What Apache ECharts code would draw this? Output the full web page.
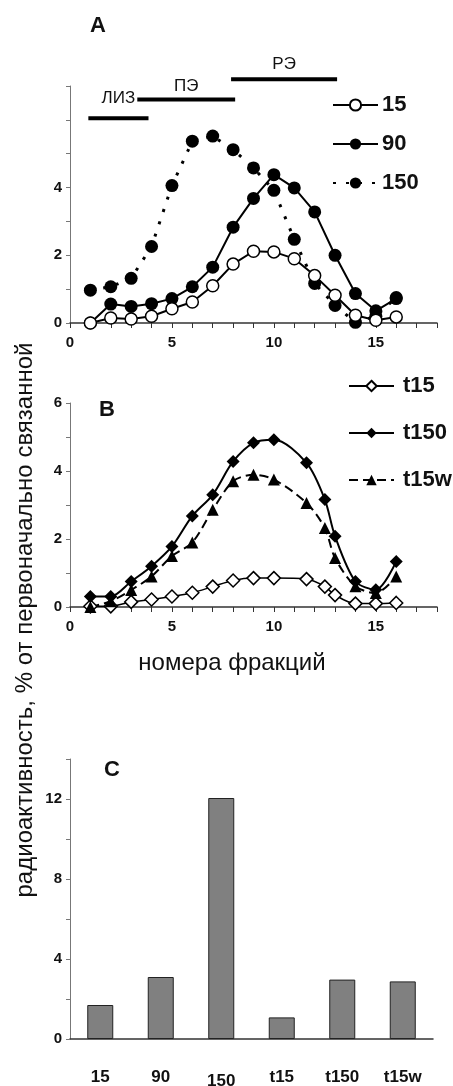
<!DOCTYPE html>
<html>
<head>
<meta charset="utf-8">
<script src="https://cdn.jsdelivr.net/npm/echarts@6/dist/echarts.min.js"></script>
<style>
  html, body { margin: 0; padding: 0; background: #fff; }
  #chart { width: 453px; height: 1086px; }
</style>
</head>
<body>
<div id="chart"></div>
<script>
// panel A: fractions and series
const fracA = [1, 2, 3, 4, 5, 6, 7, 8, 9, 10, 11, 12, 13, 14, 15, 16]
const s15 = [0, 0.15, 0.12, 0.2, 0.42, 0.62, 1.1, 1.74, 2.12, 2.1, 1.9, 1.4, 0.82, 0.23, 0.08, 0.18]
const s90 = [0, 0.56, 0.49, 0.57, 0.72, 1.07, 1.65, 2.83, 3.68, 4.38, 3.99, 3.28, 2.0, 0.87, 0.36, 0.72]
const s150 = [0.97, 1.07, 1.32, 2.26, 4.06, 5.37, 5.52, 5.12, 4.58, 3.92, 2.47, 1.17, 0.52, 0.02, 0.2, 0.75]

// annotation ranges (fraction from, to, level)
const lizRange = [0.9, 3.85, 6.05]
const peRange = [3.3, 8.1, 6.6]
const reRange = [7.9, 13.1, 7.2]

// panel B
const fracB = [1, 2, 3, 4, 5, 6, 7, 8, 9, 10, 11.6, 12.5, 13, 14, 15, 16]
const t15 = [0.02, 0.02, 0.15, 0.22, 0.31, 0.42, 0.6, 0.78, 0.85, 0.85, 0.82, 0.6, 0.35, 0.1, 0.1, 0.12]
const t150 = [0.31, 0.31, 0.75, 1.2, 1.78, 2.68, 3.3, 4.28, 4.83, 4.92, 4.24, 3.16, 2.08, 0.75, 0.51, 1.34]
const t15w = [0, 0.17, 0.5, 0.9, 1.5, 1.9, 2.86, 3.7, 3.89, 3.75, 3.06, 2.32, 1.44, 0.61, 0.41, 0.9]

// panel C
const catsC = ['15', '90', '150', 't15', 't150', 't15w']
const totalsC = [1.7, 3.1, 12.05, 1.08, 2.97, 2.88]

const FONT = 'Arial, "Liberation Sans", sans-serif'

const pairs = (xs, ys) => xs.map((x, i) => [x, ys[i]])
const seg = r => [[r[0], r[2]], [r[1], r[2]]]

const axisLabelStyle = { color: '#111', fontFamily: FONT, fontWeight: 'bold', fontSize: 15 }

function fracAxis (gridIndex) {
  return {
    type: 'value', gridIndex, min: 0, max: 18, interval: 1,
    axisLine: { lineStyle: { color: '#333', width: 1.5 } },
    axisTick: { length: 5, lineStyle: { color: '#333' } },
    splitLine: { show: false },
    axisLabel: Object.assign({ margin: 12, formatter: v => (v % 5 === 0 && v <= 15) ? v : '' }, axisLabelStyle)
  }
}

function valAxis (gridIndex, max, interval, every, hide) {
  return {
    type: 'value', gridIndex, min: 0, max, interval,
    axisLine: { show: true, lineStyle: { color: '#777', width: 1 } },
    axisTick: { show: true, length: 4, lineStyle: { color: '#777' } },
    splitLine: { show: false },
    axisLabel: Object.assign({ margin: 8, formatter: v => (v % every === 0 && !(hide || []).includes(v)) ? v : '' }, axisLabelStyle)
  }
}

const chart = echarts.init(document.getElementById('chart'), null, { renderer: 'canvas' })

const annSeries = [lizRange, peRange, reRange].map(r => ({
  type: 'line', xAxisIndex: 0, yAxisIndex: 0, data: seg(r),
  symbol: 'none', clip: false, silent: true,
  lineStyle: { color: '#000', width: 4 }
}))

const option = {
  animation: false,
  grid: [
    { left: 70, top: 86, width: 367, height: 237, outerBoundsMode: 'none' },
    { left: 70, top: 403, width: 367, height: 204, outerBoundsMode: 'none' },
    { left: 70, top: 759, width: 363, height: 280, outerBoundsMode: 'none' }
  ],
  xAxis: [
    fracAxis(0),
    fracAxis(1),
    {
      type: 'category', gridIndex: 2, data: catsC,
      axisLine: { lineStyle: { color: '#333', width: 1.5 } },
      axisTick: { length: 5, lineStyle: { color: '#333' } },
      axisLabel: Object.assign({}, axisLabelStyle, {
        margin: 30, fontSize: 17, interval: 0, hideOverlap: false,
        formatter: v => v === '150' ? '{low|' + v + '}' : v,
        rich: { low: { fontFamily: FONT, fontWeight: 'bold', fontSize: 17, color: '#111', padding: [4, 0, 0, 0] } }
      })
    }
  ],
  yAxis: [
    valAxis(0, 7, 1, 2, [6]),
    valAxis(1, 6, 1, 2),
    valAxis(2, 14, 2, 4)
  ],
  legend: [
    {
      orient: 'vertical', left: 327, top: 89, itemWidth: 45, itemHeight: 14, itemGap: 17,
      data: ['15', '90', '150'],
      textStyle: { fontFamily: FONT, fontWeight: 'bold', fontSize: 22, color: '#111', padding: [0, 0, 0, -1] }
    },
    {
      orient: 'vertical', left: 343, top: 370, itemWidth: 45, itemHeight: 13, itemGap: 25,
      data: ['t15', 't150', 't15w'],
      textStyle: { fontFamily: FONT, fontWeight: 'bold', fontSize: 22, color: '#111', padding: [0, 0, 0, 4] }
    }
  ],
  series: [
    {
      name: '15', type: 'line', xAxisIndex: 0, yAxisIndex: 0, data: pairs(fracA, s15),
      symbol: 'circle', symbolSize: 12, z: 4,
      itemStyle: { color: '#fff', borderColor: '#000', borderWidth: 1.5 },
      lineStyle: { color: '#000', width: 2 }
    },
    {
      name: '90', type: 'line', xAxisIndex: 0, yAxisIndex: 0, data: pairs(fracA, s90),
      symbol: 'circle', symbolSize: 13, z: 3,
      itemStyle: { color: '#000' },
      lineStyle: { color: '#000', width: 2 }
    },
    {
      name: '150', type: 'line', xAxisIndex: 0, yAxisIndex: 0, data: pairs(fracA, s150),
      symbol: 'circle', symbolSize: 13, z: 2,
      itemStyle: { color: '#000' },
      lineStyle: { color: '#000', width: 3, type: [3, 10] }
    },
    ...annSeries,
    {
      name: 't15', type: 'line', xAxisIndex: 1, yAxisIndex: 1, data: pairs(fracB, t15),
      symbol: 'diamond', symbolSize: 13, smooth: 0.3,
      itemStyle: { color: '#fff', borderColor: '#000', borderWidth: 1.5 },
      lineStyle: { color: '#000', width: 1.5 }
    },
    {
      name: 't150', type: 'line', xAxisIndex: 1, yAxisIndex: 1, data: pairs(fracB, t150),
      symbol: 'diamond', symbolSize: 13, smooth: 0.3,
      itemStyle: { color: '#000' },
      lineStyle: { color: '#000', width: 2 }
    },
    {
      name: 't15w', type: 'line', xAxisIndex: 1, yAxisIndex: 1, data: pairs(fracB, t15w),
      symbol: 'triangle', symbolSize: 12, smooth: 0.3,
      itemStyle: { color: '#000' },
      lineStyle: { color: '#000', width: 2, type: [9, 5] }
    },
    {
      name: 'C', type: 'bar', xAxisIndex: 2, yAxisIndex: 2, data: totalsC,
      barWidth: 26,
      itemStyle: { color: '#808080', borderColor: '#222', borderWidth: 1 }
    }
  ]
}

chart.setOption(option)

// texts placed via data coordinates
const annText = (label, x, y) => {
  const p = chart.convertToPixel({ gridIndex: 0 }, [x, y])
  return {
    type: 'text', x: p[0], y: p[1],
    style: { text: label, fontFamily: FONT, fontSize: 17, fill: '#111', align: 'center', verticalAlign: 'middle' }
  }
}
const letter = (t, x, y) => ({
  type: 'text', x, y,
  style: { text: t, fontFamily: FONT, fontWeight: 'bold', fontSize: 22, fill: '#111', align: 'center', verticalAlign: 'middle' }
})

chart.setOption({
  graphic: [
    annText('ЛИЗ', (lizRange[0] + lizRange[1]) / 2, lizRange[2] + 0.6),
    annText('ПЭ', (peRange[0] + peRange[1]) / 2, peRange[2] + 0.4),
    annText('РЭ', (reRange[0] + reRange[1]) / 2, reRange[2] + 0.45),
    letter('A', 98, 26),
    letter('B', 107, 410),
    letter('C', 112, 770),
    {
      type: 'text', x: 232, y: 663,
      style: { text: 'номера фракций', fontFamily: FONT, fontSize: 24, fill: '#111', align: 'center', verticalAlign: 'middle' }
    },
    {
      type: 'text', x: 25, y: 620, rotation: Math.PI / 2,
      style: { text: 'радиоактивность, % от первоначально связанной', fontFamily: FONT, fontSize: 24, fill: '#111', align: 'center', verticalAlign: 'middle' }
    }
  ]
})
</script>
</body>
</html>
